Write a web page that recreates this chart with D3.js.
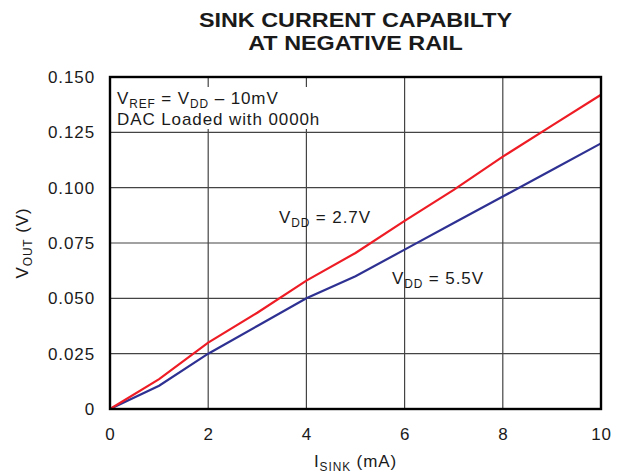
<!DOCTYPE html>
<html>
<head>
<meta charset="utf-8">
<script src="https://cdn.jsdelivr.net/npm/d3@7"></script>
<style>
  body { margin: 0; background: #fff; }
  text { font-family: "Liberation Sans", Arial, sans-serif; fill: #1a1a1a; letter-spacing: 0.9px; }
</style>
</head>
<body>
<svg id="chart" width="622" height="475"></svg>
<script>
// values
const sinkCurrent = [0, 1, 2, 3, 4, 5, 6, 7, 8, 9, 10]
const vout27 = [0, 0.0135, 0.030, 0.0435, 0.058, 0.0705, 0.085, 0.099, 0.114, 0.128, 0.142]
const vout55 = [0, 0.0105, 0.025, 0.0375, 0.050, 0.060, 0.072, 0.084, 0.096, 0.108, 0.120]
const xTicks = [0, 2, 4, 6, 8, 10]
const yTicks = [0, 0.025, 0.05, 0.075, 0.1, 0.125, 0.15]

const margin = {top: 77, right: 21, bottom: 66, left: 110},
    width = 622 - margin.left - margin.right,
    height = 475 - margin.top - margin.bottom

const fs = 17

let svg = d3.select("#chart")
let g = svg.append("g").attr("transform", "translate(" + margin.left + "," + margin.top + ")")

let x = d3.scaleLinear().domain([0, 10]).range([0, width])
let y = d3.scaleLinear().domain([0, 0.15]).range([height, 0])

// grid
g.append("g")
    .selectAll("line")
    .data(xTicks.slice(1, -1))
    .enter().append("line")
    .attr("x1", d => x(d)).attr("x2", d => x(d))
    .attr("y1", 0).attr("y2", height)
    .attr("stroke", "#444").attr("stroke-width", 1.2)

g.append("g")
    .selectAll("line")
    .data(yTicks.slice(1, -1))
    .enter().append("line")
    .attr("y1", d => y(d)).attr("y2", d => y(d))
    .attr("x1", 0).attr("x2", width)
    .attr("stroke", "#444").attr("stroke-width", 1.2)

// white patch behind the note
g.append("rect")
    .attr("x", 2).attr("y", 10).attr("width", 222).attr("height", 42)
    .attr("fill", "#fff")

// axes (labels only)
let xAxis = g.append("g")
    .attr("transform", "translate(0," + height + ")")
    .call(d3.axisBottom(x).tickValues(xTicks).tickSize(0).tickPadding(19).tickFormat(d3.format("d")))
xAxis.select(".domain").remove()
xAxis.selectAll("text").style("font-size", fs + "px").attr("fill", "#1a1a1a")
    .style("font-family", '"Liberation Sans", Arial, sans-serif')

let yAxis = g.append("g")
    .call(d3.axisLeft(y).tickValues(yTicks).tickSize(0).tickPadding(15)
        .tickFormat(d => d === 0 ? "0" : d3.format(".3f")(d)))
yAxis.select(".domain").remove()
yAxis.selectAll("text").style("font-size", fs + "px").attr("fill", "#1a1a1a")
    .style("font-family", '"Liberation Sans", Arial, sans-serif')

// lines
let line = d3.line().x(d => x(d[0])).y(d => y(d[1]))

g.append("path")
    .datum(sinkCurrent.map((c, i) => [c, vout55[i]]))
    .attr("d", line)
    .attr("fill", "none").attr("stroke", "#2e3192").attr("stroke-width", 2.2)

g.append("path")
    .datum(sinkCurrent.map((c, i) => [c, vout27[i]]))
    .attr("d", line)
    .attr("fill", "none").attr("stroke", "#ee1c25").attr("stroke-width", 2.2)

// frame
g.append("rect")
    .attr("x", 0).attr("y", 0).attr("width", width).attr("height", height)
    .attr("fill", "none").attr("stroke", "#000").attr("stroke-width", 2.4)

// title (glyphs in the reference are a bit wider than Liberation Sans)
const titleLines = ["SINK CURRENT CAPABILTY", "AT NEGATIVE RAIL"]
titleLines.forEach((t, i) => {
    svg.append("text")
        .attr("transform", "translate(" + (margin.left + width / 2) + "," + (27 + i * 23) + ") scale(1.14,1)")
        .attr("text-anchor", "middle").style("font-size", "20.5px").style("font-weight", "bold")
        .style("letter-spacing", "0px")
        .attr("fill", "#000")
        .text(t)
})

// text with subscript parts
const subText = (sel, parts, size) => {
    parts.forEach(p => {
        let t = sel.append("tspan").text(p[0])
        if (p[1]) {
            t.style("font-size", (size * 0.7) + "px").attr("dy", 4)
        } else {
            t.style("font-size", size + "px").attr("dy", p[2] ? -4 : 0)
        }
    })
}

let note1 = svg.append("text").attr("x", 117).attr("y", 104)
subText(note1, [["V"], ["REF", true], [" = V", false, true], ["DD", true], [" \u2013 10mV", false, true]], fs)

svg.append("text").attr("x", 117).attr("y", 125)
    .style("font-size", fs + "px")
    .text("DAC Loaded with 0000h")

let lbl27 = svg.append("text").attr("x", 279).attr("y", 223)
subText(lbl27, [["V"], ["DD", true], [" = 2.7V", false, true]], fs)

let lbl55 = svg.append("text").attr("x", 392).attr("y", 284)
subText(lbl55, [["V"], ["DD", true], [" = 5.5V", false, true]], fs)

// axis titles
let xTitle = svg.append("text").attr("x", margin.left + width / 2).attr("y", 467).attr("text-anchor", "middle")
subText(xTitle, [["I"], ["SINK", true], [" (mA)", false, true]], fs)

let yTitle = svg.append("text")
    .attr("transform", "translate(28," + (margin.top + height / 2) + ") rotate(-90)")
    .attr("text-anchor", "middle")
subText(yTitle, [["V"], ["OUT", true], [" (V)", false, true]], fs)
</script>
</body>
</html>
